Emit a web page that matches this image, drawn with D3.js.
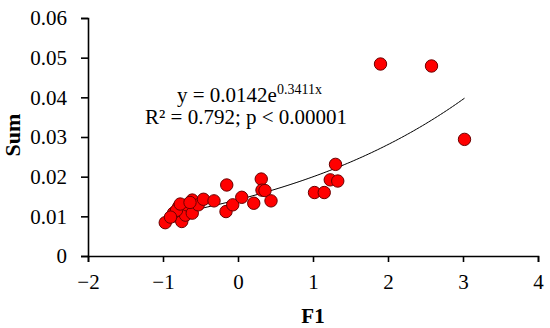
<!DOCTYPE html>
<html>
<head>
<meta charset="utf-8">
<script src="https://cdn.jsdelivr.net/npm/d3@7/dist/d3.min.js"></script>
<style>
  html, body { margin: 0; padding: 0; background: #fff; }
  svg text { font-family: "Liberation Serif", "Times New Roman", serif; fill: #000; }
</style>
</head>
<body>
<svg id="chart" width="550" height="328"></svg>
<script>
  // ── Data ──────────────────────────────────────────────────────
  const F1 = [
    -0.97, -0.85, -0.86, -0.75, -0.79, -0.73, -0.70, -0.68, -0.61, -0.61,
    -0.53, -0.46, -0.32, -0.16, -0.15, -0.07, 0.05, 0.21, 0.31, 0.32,
    0.36, 0.44, 1.02, 1.15, 1.23, 1.33, 1.30, 1.90, 2.58, 3.02,
    -0.82, -0.77, -0.64, -0.90
  ];
  const SUM = [
    0.0084, 0.0101, 0.0108, 0.0087, 0.0124, 0.0120, 0.0103, 0.0129, 0.0141, 0.0108,
    0.0129, 0.0143, 0.0139, 0.0112, 0.0179, 0.0129, 0.0148, 0.0133, 0.0194, 0.0166,
    0.0165, 0.0139, 0.0160, 0.0160, 0.0192, 0.0189, 0.0231, 0.0484, 0.0479, 0.0294,
    0.0115, 0.0131, 0.0135, 0.0098
  ];
  const X_TICKS = [-2, -1, 0, 1, 2, 3, 4];
  const Y_TICKS = [0, 0.01, 0.02, 0.03, 0.04, 0.05, 0.06];
  const FIT_A = 0.0142, FIT_B = 0.3411;   // y = a·e^(b·x)

  // ── Layout ───────────────────────────────────────────────────
  const svg = d3.select('#chart');
  const x = d3.scaleLinear().domain([-2, 4]).range([88, 538]);
  const y = d3.scaleLinear().domain([0, 0.06]).range([256, 18]);

  // axes
  const xAxis = svg.append('g')
    .attr('transform', 'translate(0,' + y(0) + ')')
    .call(d3.axisBottom(x).tickValues(X_TICKS).tickSize(6).tickPadding(12)
      .tickFormat(function (d) { return d < 0 ? '\u2212' + Math.abs(d) : d; }));
  const yAxis = svg.append('g')
    .attr('transform', 'translate(' + x(-2) + ',0)')
    .call(d3.axisLeft(y).tickValues(Y_TICKS).tickSize(7).tickPadding(14)
      .tickFormat(function (d) { return d === 0 ? '0' : d3.format('.2f')(d); }));

  [xAxis, yAxis].forEach(function (g) {
    g.attr('font-family', null).attr('font-size', null);
    g.select('.domain').attr('stroke', '#000').attr('stroke-width', 1.6);
    g.selectAll('.tick line').attr('stroke', '#000').attr('stroke-width', 1.6);
    g.selectAll('.tick text')
      .style('font-family', '"Liberation Serif", "Times New Roman", serif')
      .style('font-size', '21px');
  });

  // axis titles
  svg.append('text')
    .attr('x', 313).attr('y', 323)
    .attr('text-anchor', 'middle')
    .style('font-size', '21px').style('font-weight', 'bold')
    .text('F1');
  svg.append('text')
    .attr('transform', 'translate(20,135) rotate(-90)')
    .attr('text-anchor', 'middle')
    .style('font-size', '22px').style('font-weight', 'bold')
    .text('Sum');

  // exponential trend line over the data range
  const xMin = d3.min(F1), xMax = d3.max(F1);
  const fit = d3.range(0, 101).map(function (i) {
    const v = xMin + (xMax - xMin) * i / 100;
    return [v, FIT_A * Math.exp(FIT_B * v)];
  });
  svg.append('path')
    .datum(fit)
    .attr('fill', 'none')
    .attr('stroke', '#000')
    .attr('stroke-width', 1)
    .attr('d', d3.line()
      .x(function (d) { return x(d[0]); })
      .y(function (d) { return y(d[1]); }));

  // points
  svg.append('g')
    .selectAll('circle')
    .data(F1.map(function (v, i) { return [v, SUM[i]]; }))
    .join('circle')
    .attr('cx', function (d) { return x(d[0]); })
    .attr('cy', function (d) { return y(d[1]); })
    .attr('r', 6.2)
    .attr('fill', '#ff0000')
    .attr('stroke', '#6b0000')
    .attr('stroke-width', 1);

  // equation annotation
  const eq = svg.append('text')
    .attr('x', 177).attr('y', 102)
    .style('font-size', '21px');
  eq.append('tspan').text('y = 0.0142e');
  eq.append('tspan').attr('dy', -8).style('font-size', '14px').text('0.3411x');

  svg.append('text')
    .attr('x', 145).attr('y', 124)
    .style('font-size', '21px')
    .text('R\u00b2 = 0.792; p < 0.00001');
</script>
</body>
</html>
